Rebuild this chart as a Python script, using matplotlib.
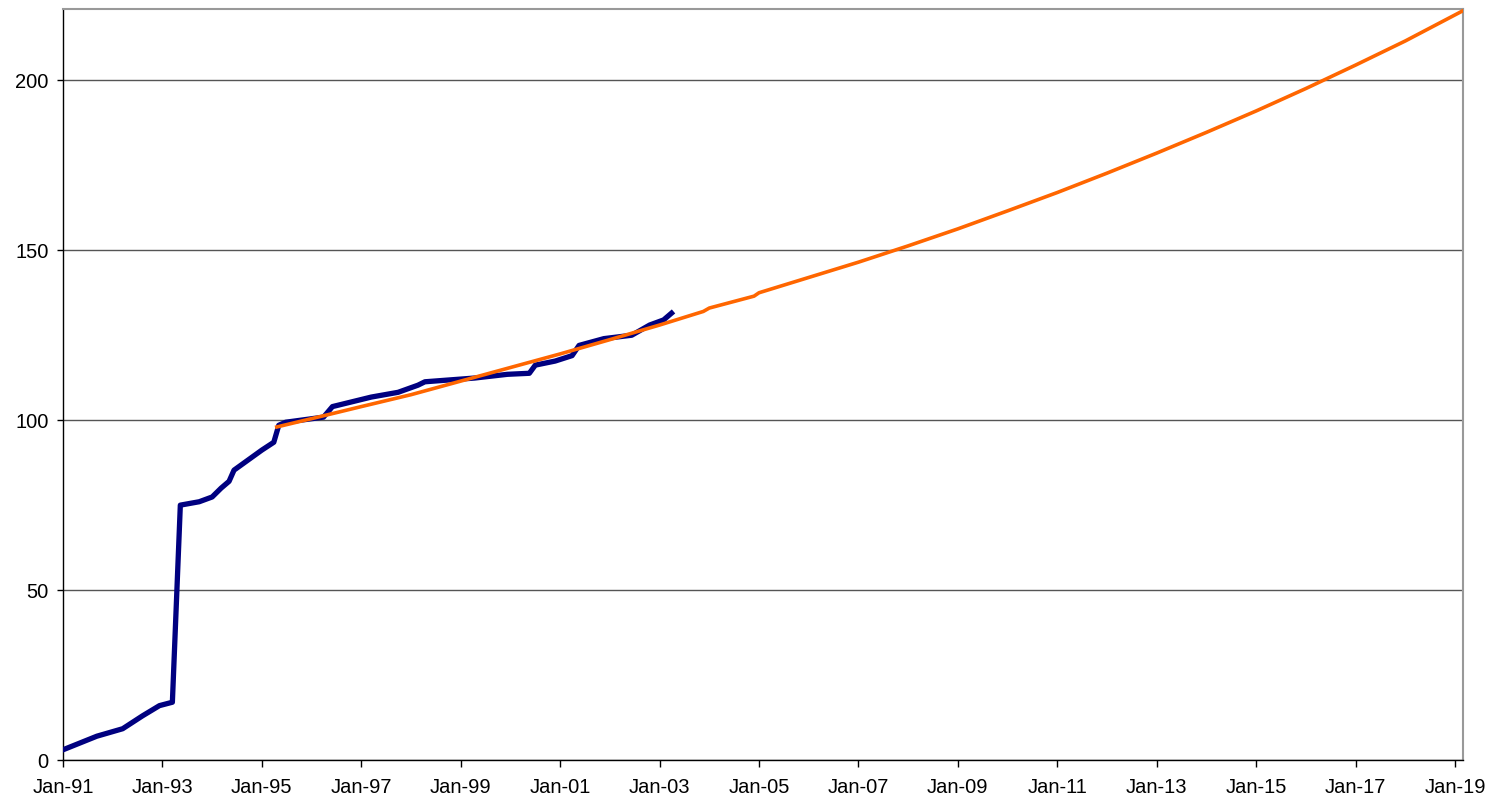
import matplotlib
matplotlib.use('Agg')
import matplotlib.pyplot as plt

# actual series (decimal years, value)
actual_t = [1991.0, 1991.68, 1992.2, 1992.6, 1992.94, 1993.2, 1993.36, 1993.74, 1994.0,
            1994.18, 1994.34, 1994.44, 1995.0, 1995.24, 1995.34, 1995.48, 1996.24, 1996.42,
            1997.2, 1997.74, 1998.14, 1998.28, 1999.28, 1999.94, 2000.38, 2000.5, 2000.9,
            2001.24, 2001.38, 2001.88, 2002.44, 2002.8, 2003.08, 2003.24]
actual_v = [3, 7, 9.2, 13, 16, 17, 75, 76, 77.4,
            80, 82, 85.3, 91.2, 93.5, 98.5, 99.4, 100.9, 104,
            106.8, 108.2, 110.3, 111.3, 112.4, 113.5, 113.8, 116.2, 117.4,
            119, 122, 124, 125, 128, 129.5, 131.5]

# trend / projection
trend_t = [1995.3, 1996.24, 1997.0, 1998.0, 1999.0, 2000.0, 2001.0, 2002.0, 2003.0,
           2003.88, 2004.0, 2004.9, 2005.0, 2006.0, 2007.0, 2008.0, 2009.0, 2010.0,
           2011.0, 2012.0, 2013.0, 2014.0, 2015.0, 2016.0, 2017.0, 2018.0, 2019.16]
trend_v = [98, 101.3, 104, 107.5, 111.5, 115.5, 119.5, 123.7, 128,
           132, 133, 136.5, 137.5, 142, 146.5, 151.3, 156.3, 161.6,
           167, 172.7, 178.6, 184.7, 191, 197.6, 204.5, 211.6, 220.5]

x_ticks = list(range(1991, 2020, 2))
x_labels = ['Jan-%02d' % (y % 100) for y in x_ticks]
y_ticks = [0, 50, 100, 150, 200]

plt.rcParams['font.family'] = ['Liberation Sans', 'DejaVu Sans']

fig = plt.figure(figsize=(15.01, 8.09), dpi=100)
ax = fig.add_axes([63 / 1501, 1 - 760 / 809, 1400 / 1501, 751 / 809])

ax.plot(actual_t, actual_v, color='#000080', lw=3.8, solid_joinstyle='round', zorder=3)
ax.plot(trend_t, trend_v, color='#FF6600', lw=2.6, zorder=4)

ax.set_xlim(1991, 2019.16)
ax.set_ylim(0, 221)
ax.set_xticks(x_ticks)
ax.set_xticklabels(x_labels)
ax.set_yticks(y_ticks)
ax.tick_params(axis='both', labelsize=14.5, width=1, direction='out')
ax.tick_params(axis='x', length=5, pad=8)
ax.tick_params(axis='y', length=4.5, pad=6)
ax.yaxis.grid(True, color='#555555', lw=1)
ax.set_axisbelow(True)

for s in ['top', 'right']:
    ax.spines[s].set_color('#999999')
    ax.spines[s].set_linewidth(1.5)
for s in ['left', 'bottom']:
    ax.spines[s].set_color('black')
    ax.spines[s].set_linewidth(1)

fig.savefig('out.png', dpi=100)
